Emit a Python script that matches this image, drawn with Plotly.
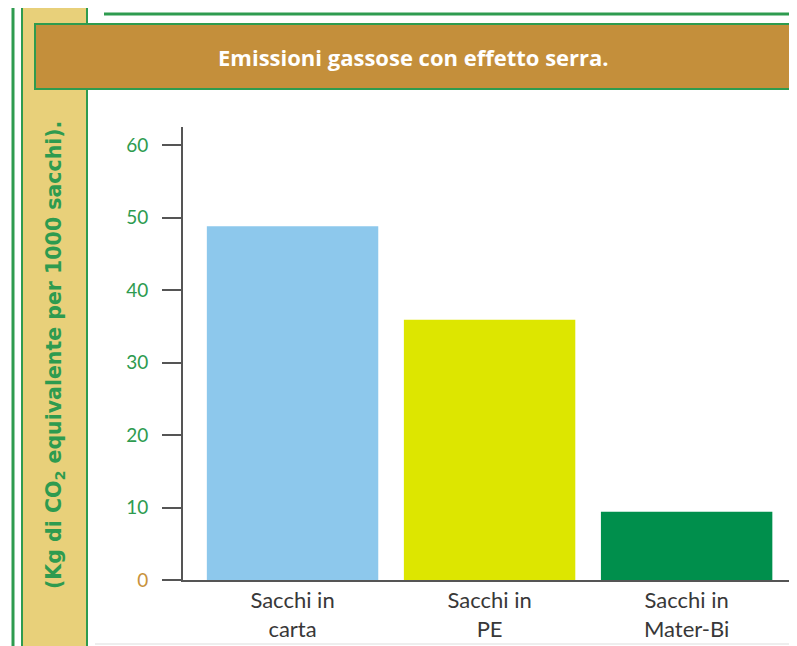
import plotly.graph_objects as go

categories = ["Sacchi in<br>carta", "Sacchi in<br>PE", "Sacchi in<br>Mater-Bi"]
values = [48.8, 35.9, 9.4]
bar_colors = ["#8DC8EC", "#DDE600", "#008F4C"]
tick_vals = [0, 10, 20, 30, 40, 50, 60]
tick_text = ['<span style="color:#C8923A">0</span>', "10", "20", "30", "40", "50", "60"]
title_text = "Emissioni gassose con effetto serra."
ytitle_text = "(Kg di CO<sub>2</sub> equivalente per 1000 sacchi)."

OFF = 8  # page body margin
W, H = 797 - OFF, 646 - OFF
L, R, T, B = 183 - OFF, 2, 127 - OFF, 66
pw, ph = W - L - R, H - T - B

def px(x):
    return (x - OFF - L) / pw

def py(y):
    return (H - B - (y - OFF)) / ph

GREEN = "#2E9B4F"

fig = go.Figure()
fig.add_trace(go.Bar(
    x=categories, y=values, marker=dict(color=bar_colors, line=dict(width=0)),
    width=0.87,
))

shapes = [
    dict(type="line", xref="paper", yref="paper", x0=px(13), x1=px(13), y0=py(7), y1=py(660),
         line=dict(color=GREEN, width=3), layer="below"),
    dict(type="rect", xref="paper", yref="paper", x0=px(22), x1=px(87), y0=py(7), y1=py(660),
         fillcolor="#E8D07A", line=dict(color=GREEN, width=2), layer="below"),
    dict(type="line", xref="paper", yref="paper", x0=px(104), x1=px(791), y0=py(14), y1=py(14),
         line=dict(color=GREEN, width=3), layer="below"),
    dict(type="rect", xref="paper", yref="paper", x0=px(35), x1=px(792), y0=py(24), y1=py(89),
         fillcolor="#C48F3B", line=dict(color=GREEN, width=2), layer="below"),
    dict(type="line", xref="paper", yref="paper", x0=px(95), x1=px(797), y0=py(644), y1=py(644),
         line=dict(color="#DDDDDD", width=1), layer="below"),
]

annotations = [
    dict(text="<b>" + title_text + "</b>", xref="paper", yref="paper", x=px(413), y=py(57),
         showarrow=False, font=dict(family="Open Sans", size=22, color="white"),
         xanchor="center", yanchor="middle"),
    dict(text="<b>" + ytitle_text + "</b>", xref="paper", yref="paper", x=px(55), y=py(355),
         showarrow=False, textangle=-90, font=dict(family="DejaVu Sans", size=20.5, color=GREEN),
         xanchor="center", yanchor="middle"),
]

fig.update_layout(
    width=W, height=H,
    margin=dict(l=L, r=R, t=T, b=B, pad=0),
    paper_bgcolor="white", plot_bgcolor="white",
    showlegend=False,
    shapes=shapes, annotations=annotations,
    xaxis=dict(
        range=[-0.556, 2.55], showline=True, linecolor="#555555", linewidth=2,
        ticks="", showgrid=False, zeroline=False,
        tickfont=dict(family="Lato", size=22, color="#383838"),
    ),
    yaxis=dict(
        range=[0, 62.5], showline=True, linecolor="#555555", linewidth=2,
        ticks="outside", ticklen=19, tickwidth=2, tickcolor="#555555",
        tickvals=tick_vals, ticktext=tick_text, ticklabelstandoff=10,
        showgrid=False, zeroline=False,
        tickfont=dict(family="Lato", size=19, color=GREEN),
    ),
)

fig.write_html("out.html")
